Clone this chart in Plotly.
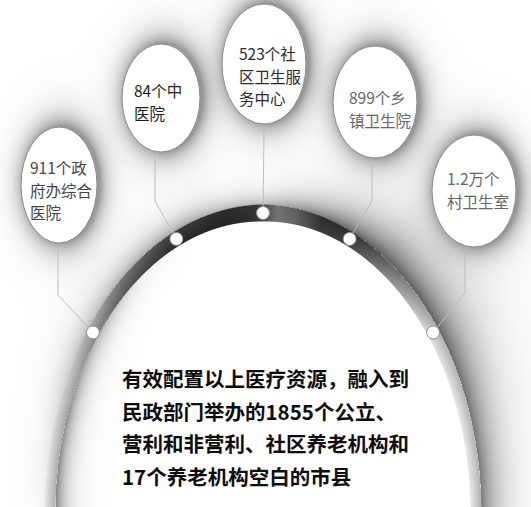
import numpy as np
import plotly.graph_objects as go

# ---------------- data ----------------
bubble_counts = ["911个", "84个", "523个", "899个", "1.2万个"]
bubble_names = ["政府办综合医院", "中医院", "社区卫生服务中心", "乡镇卫生院", "村卫生室"]
bubble_lines = [
    ["911个政", "府办综合", "医院"],
    ["84个中", "医院"],
    ["523个社", "区卫生服", "务中心"],
    ["899个乡", "镇卫生院"],
    ["1.2万个", "村卫生室"],
]
summary_lines = [
    "有效配置以上医疗资源，融入到",
    "民政部门举办的1855个公立、",
    "营利和非营利、社区养老机构和",
    "17个养老机构空白的市县",
]

# ---------------- layout geometry / style ----------------
W, H = 531, 507
CX, CY, A, B = 263, 513, 213, 300
dot_angles = [-53, -24, 0, 24, 53]
bubble_centers = [(59, 185), (161, 98), (264, 64), (375, 102), (474, 191)]
bubble_radii = [(38, 58), (39, 54), (42, 60), (42, 56), (42, 56)]
text_left = [28, 132, 237, 347, 445]
text_top = [167, 90, 53, 97, 178]
text_colors = ["#454545", "#1e1e1e", "#2a2a2a", "#666666", "#666666"]
line_step = 22.5
elbow_x = [58, 155, 264, 372, 465]
elbow_y = [295, 201, None, 201, 293]
FONT = "Noto Sans CJK SC"
DOT_R = 6.5


def ring_pt(t_deg, off):
    t = np.radians(t_deg)
    return CX + (A + off) * np.sin(t), CY - (B + off) * np.cos(t)


def hw(t_deg):
    return 8.5 - 3.0 * np.abs(np.sin(np.radians(t_deg)))


# ---------------- background decoration (arch band + soft shadows) ----------------
xs = np.arange(W) + 0.5
ys = np.arange(H) + 0.5
X, Y = np.meshgrid(xs, ys)
lo = np.full(X.shape, -A + 1.0)
hi = np.full(X.shape, 400.0)
for _ in range(40):
    mid = (lo + hi) / 2
    f = ((X - CX) / (A + mid)) ** 2 + ((Y - CY) / (B + mid)) ** 2 - 1
    lo = np.where(f > 0, mid, lo)
    hi = np.where(f > 0, hi, mid)
OFF = (lo + hi) / 2
T = np.degrees(np.arctan2((X - CX) / (A + OFF), (CY - Y) / (B + OFF)))
HW = hw(T)

g_band = np.interp(T, [-95, -80, -65, -53, -40, -24, -10, -2, 4, 9, 16, 24, 32, 42, 53, 70, 95],
                   [205, 200, 185, 155, 100, 50, 40, 52, 115, 95, 50, 55, 95, 150, 200, 205, 205])
S_out = np.interp(T, [-95, -75, -55, -35, -20, -8, 0, 8, 20, 35, 50, 70, 95],
                  [0.03, 0.10, 0.24, 0.32, 0.36, 0.28, 0.28, 0.40, 0.58, 0.64, 0.62, 0.55, 0.50])
L_out = np.interp(T, [-95, -55, -20, 0, 20, 35, 55, 75, 95],
                  [10, 13, 12, 10, 18, 27, 27, 20, 17])
S_in = np.interp(T, [-95, -70, -50, -35, -20, 95], [0.50, 0.45, 0.28, 0.06, 0.0, 0.0])
L_in = 10.0

shade = np.ones(X.shape)
dout = OFF - HW
din = -HW - OFF
shade *= 1 - np.where(dout > 0, S_out * np.exp(-np.clip(dout, 0, None) / L_out), 0)
shade *= 1 - np.where(din > 0, S_in * np.exp(-np.clip(din, 0, None) / L_in), 0)

for (cx, cy), (rx, ry) in zip(bubble_centers, bubble_radii):
    d = np.sqrt(((X - cx - 3) / rx) ** 2 + ((Y - cy + 1) / ry) ** 2)
    dist = (d - 1) * (rx + ry) / 2
    shade *= 1 - 0.40 * np.exp(-np.clip(dist, 0, None) / 11.0)

bg = 255 * shade
U = np.clip(OFF / np.maximum(HW, 1e-6), -1, 1)
band_val = np.clip(g_band - 28 * U * np.sin(np.radians(T)), 0, 255)
cover = np.clip(HW - np.abs(OFF) + 0.5, 0, 1)
img = bg * (1 - cover) + band_val * cover
img = np.round(img).astype(np.uint8)

fig = go.Figure()
fig.add_trace(go.Heatmap(
    x=xs, y=ys, z=img, zmin=0, zmax=255,
    colorscale=[[0, "black"], [1, "white"]], showscale=False, hoverinfo="skip"))

# ---------------- connectors and bubbles ----------------
shapes = []
dot_pts = [ring_pt(t, 0) for t in dot_angles]
for i, ((cx, cy), (rx, ry)) in enumerate(zip(bubble_centers, bubble_radii)):
    px, py = dot_pts[i]
    ex = elbow_x[i]
    top_y = cy + np.sqrt(max(0.0, 1 - ((ex - cx) / rx) ** 2)) * ry + 6
    sx, sy = (ex, top_y) if elbow_y[i] is None else (ex, elbow_y[i])
    vx, vy = px - sx, py - sy
    ln = np.hypot(vx, vy)
    endx, endy = px - vx / ln * DOT_R, py - vy / ln * DOT_R
    if elbow_y[i] is None:
        path = f"M {ex},{top_y:.1f} L {endx:.1f},{endy:.1f}"
    else:
        path = f"M {ex},{top_y:.1f} L {ex},{elbow_y[i]} L {endx:.1f},{endy:.1f}"
    shapes.append(dict(type="path", path=path, line=dict(color="#bdbdbd", width=1), layer="above"))

for (cx, cy), (rx, ry) in zip(bubble_centers, bubble_radii):
    shapes.append(dict(type="circle", xref="x", yref="y",
                       x0=cx - rx, x1=cx + rx, y0=cy - ry, y1=cy + ry,
                       fillcolor="white", line=dict(color="#8c8c8c", width=1), layer="above"))

fig.add_trace(go.Scatter(
    x=[p[0] for p in dot_pts], y=[p[1] for p in dot_pts], mode="markers",
    marker=dict(symbol="circle", size=2 * DOT_R, color="white", line=dict(color="#8a8a8a", width=1)),
    hovertext=[c + n for c, n in zip(bubble_counts, bubble_names)], hoverinfo="text",
    showlegend=False))

annotations = []
for i, lines in enumerate(bubble_lines):
    for j, line in enumerate(lines):
        annotations.append(dict(x=text_left[i], y=text_top[i] + j * line_step, xref="x", yref="y",
                                text=line, showarrow=False, xanchor="left", yanchor="middle",
                                font=dict(family=FONT, size=15.5, color=text_colors[i])))

for j, line in enumerate(summary_lines):
    annotations.append(dict(x=120, y=378 + j * 32.7, xref="x", yref="y",
                            text=f"<b>{line}</b>", showarrow=False, xanchor="left", yanchor="middle",
                            font=dict(family=FONT, size=20.5, color="#0d0d0d")))

fig.update_layout(
    width=W, height=H, margin=dict(l=0, r=0, t=0, b=0),
    paper_bgcolor="white", plot_bgcolor="white",
    xaxis=dict(range=[0, W], visible=False, fixedrange=True),
    yaxis=dict(range=[H, 0], visible=False, fixedrange=True),
    shapes=shapes, annotations=annotations, showlegend=False,
)

fig.write_html("out.html", config={"displayModeBar": False},
               post_script="document.body.style.margin='0';")
